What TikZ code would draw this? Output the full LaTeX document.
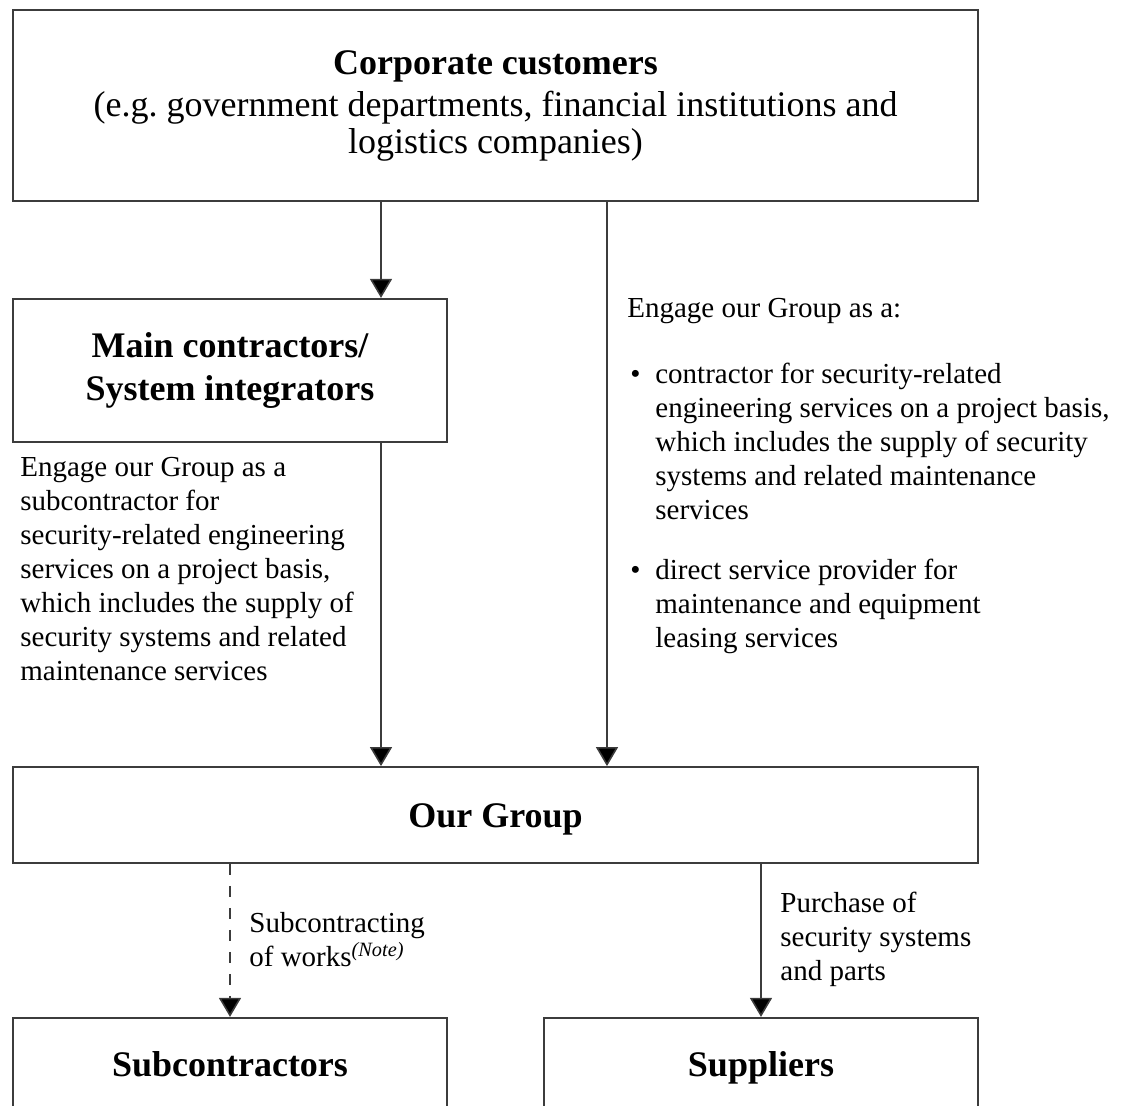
\documentclass[tikz,border=0pt]{standalone}
\usepackage{fontspec}
\setmainfont{Liberation Serif}
\usepackage{tikz}
\usetikzlibrary{positioning,arrows.meta}
\definecolor{bLine}{RGB}{60,60,60}
\tikzset{
  box/.style={rectangle, draw=bLine, line width=0.9pt, align=center, inner sep=2pt},
  title/.style={font=\fontsize{18}{21.5}\selectfont\bfseries},
  oneline/.style={title, text height=17pt, text depth=4pt},
  txt/.style={align=left, inner sep=0pt, anchor=north west,
              font=\fontsize{14.5}{17}\selectfont},
  flow/.style={-{Triangle[length=9.5pt,width=11pt,fill=black]}, draw=bLine, line width=0.8pt},
  flowd/.style={flow, dash pattern=on 5.5pt off 5.5pt},
}
\newcommand{\bulpt}{\makebox[14pt][l]{\hspace{1.5pt}\textbullet}}
\newcommand{\indpt}{\hspace*{14pt}}

\begin{document}
\begin{tikzpicture}[x=0.5pt, y=-0.5pt]
  \clip (0,0) rectangle (1126,1106);

  % ===== boxes ==========================================================
  \node[box, minimum width=482.5pt, minimum height=95.5pt,
        font=\fontsize{18}{18.5}\selectfont] (cust) at (495.5,105.5)
       {\textbf{Corporate customers}\\[2.5pt]
        (e.g.\ government departments, financial institutions and\\
        logistics companies)};
  \node[box, title, minimum width=217pt, minimum height=71.5pt,
        below=48pt of cust.south west, anchor=north west] (main)
       {Main contractors/\\System integrators};
  \node[box, oneline, minimum width=482.5pt, minimum height=48pt] (grp)
       at (495.5,815) {Our Group};
  \node[box, oneline, minimum width=217pt, minimum height=46pt,
        below=76.5pt of grp.south west, anchor=north west] (sub) {Subcontractors};
  \node[box, oneline, minimum width=217pt, minimum height=46pt,
        below=76.5pt of grp.south east, anchor=north east] (sup) {Suppliers};

  % ===== labels =========================================================
  \node[txt] (ltxt) at (20,457)
       {Engage our Group as a\\subcontractor for\\security-related engineering\\
        services on a project basis,\\which includes the supply of\\
        security systems and related\\maintenance services};
  \node[txt] (rtxt) at (627,298)
       {Engage our Group as a:\\[16pt]
        \bulpt contractor for security-related\\
        \indpt engineering services on a project basis,\\
        \indpt which includes the supply of security\\
        \indpt systems and related maintenance\\
        \indpt services\\[13pt]
        \bulpt direct service provider for\\
        \indpt maintenance and equipment\\
        \indpt leasing services};
  \node[txt] (subl) at (249,912) {Subcontracting\\of works\textsuperscript{\itshape(Note)}};
  \node[txt] (supl) at (780,892) {Purchase of\\security systems\\and parts};

  % ===== connectors =====================================================
  \coordinate (cL) at (381,0);
  \coordinate (cR) at (607,0);
  \draw[flow] (cust.south -| cL) -- (main.north -| cL);
  \draw[flow] (main.south -| cL) -- (grp.north -| cL);
  \draw[flow] (cust.south -| cR) -- (grp.north -| cR);
  \draw[flowd] (grp.south -| sub.north) -- (sub.north);
  \draw[flow] (grp.south -| sup.north) -- (sup.north);

\end{tikzpicture}
\end{document}
